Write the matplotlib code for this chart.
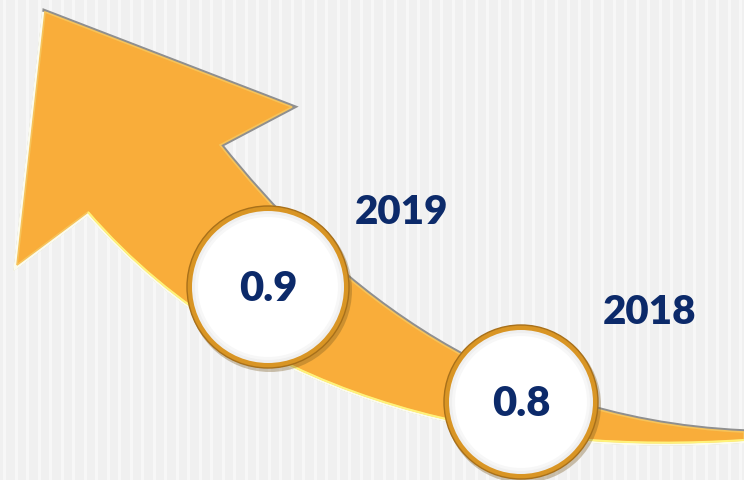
import numpy as np
import matplotlib
matplotlib.use("Agg")
import matplotlib.pyplot as plt
from matplotlib.path import Path
from matplotlib.patches import PathPatch, Circle

plt.rcParams['font.family'] = ['Lato', 'DejaVu Sans']

########################
years = ["2018", "2019"]
values = [0.8, 0.9]
########################

navy = "#0c2a6a"
orange = "#f9ad3a"

fig = plt.figure(figsize=(7.44, 4.8), dpi=100)
ax = fig.add_axes([0, 0, 1, 1])
ax.set_xlim(0, 744)
ax.set_ylim(480, 0)
ax.axis("off")
fig.patch.set_facecolor("#f0f0f0")

# textured background: faint white vertical stripes
for x in np.arange(4, 744, 11.5):
    ax.axvline(x, color="white", lw=2.2, alpha=0.5, zorder=0)

# curved arrow outline
upper = [(220, 145), (320, 270), (480, 420), (744, 432)]
lower = [(744, 440), (520, 455), (260, 410), (88, 212)]
verts = upper + lower + [(17, 265), (45, 12), (292, 107), (220, 145)]
codes = [Path.MOVETO, Path.CURVE4, Path.CURVE4, Path.CURVE4,
         Path.LINETO, Path.CURVE4, Path.CURVE4, Path.CURVE4,
         Path.LINETO, Path.LINETO, Path.LINETO, Path.CLOSEPOLY]
arrow = Path(verts, codes)

ax.add_patch(PathPatch(arrow, facecolor="none", edgecolor="#8f8f8f", lw=4, zorder=2,
                       joinstyle="miter"))
# light bevel along the lower / left side
low_path = Path(lower + [(17, 265), (45, 12)],
                [Path.MOVETO, Path.CURVE4, Path.CURVE4, Path.CURVE4, Path.LINETO, Path.LINETO])
ax.add_patch(PathPatch(low_path, facecolor="none", edgecolor="#fbfbee", lw=4.5, zorder=2.5))
ax.add_patch(PathPatch(arrow, facecolor=orange, edgecolor="#f6c35a", lw=1.2, zorder=3,
                       joinstyle="miter"))
ax.add_patch(PathPatch(Path(lower, [Path.MOVETO, Path.CURVE4, Path.CURVE4, Path.CURVE4]),
                       facecolor="none", edgecolor="#fff27a", lw=1.5, zorder=3.5))

# value circles
circles = {"2019": (268, 287, 81), "2018": (521, 402, 77)}
year_pos = {"2019": (401, 213), "2018": (649, 312)}

for year, val in zip(years, values):
    cx, cy, r = circles[year]
    ax.add_patch(Circle((cx + 2, cy + 3), r + 1, facecolor="#7a5a20", alpha=0.35,
                        edgecolor="none", zorder=4))
    ax.add_patch(Circle((cx, cy), r, facecolor="#d99524", edgecolor="#a8701a",
                        lw=1, zorder=5))
    for k, c in enumerate(["#efefef", "#f7f7f7", "white"]):
        ax.add_patch(Circle((cx, cy), r - 5 - 3 * k, facecolor=c, edgecolor="none",
                            zorder=6 + k))
    ax.text(cx, cy + 2, f"{val}", ha="center", va="center", fontsize=30,
            fontweight="heavy", color=navy, zorder=10)
    yx, yy = year_pos[year]
    ax.text(yx, yy, year, ha="center", va="center", fontsize=29,
            fontweight="heavy", color=navy, zorder=10)

plt.savefig("out.png", dpi=100, facecolor=fig.get_facecolor())
